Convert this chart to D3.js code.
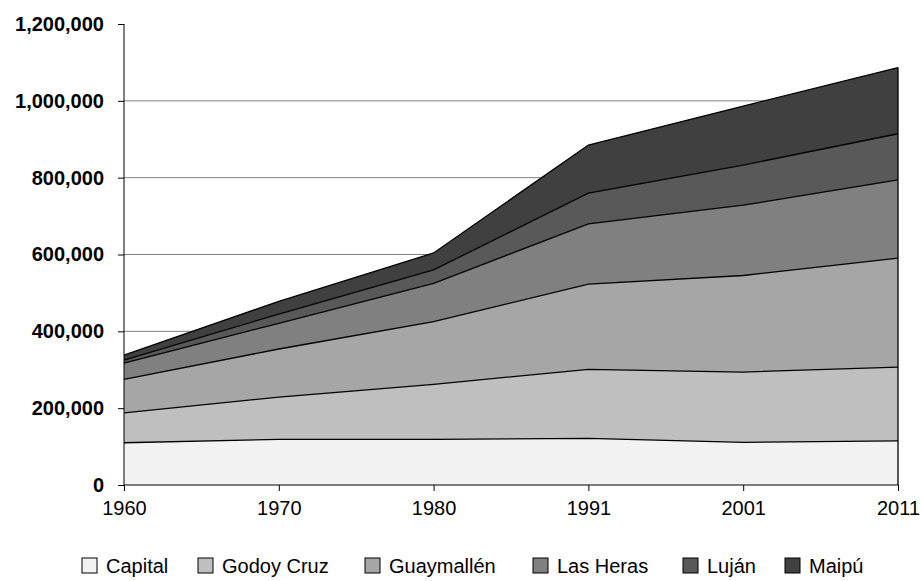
<!DOCTYPE html>
<html>
<head>
<meta charset="utf-8">
<script src="https://cdn.jsdelivr.net/npm/d3@7"></script>
<style>
  body { margin: 0; background: #fff; }
  text { font-family: "Liberation Sans", Arial, sans-serif; }
</style>
</head>
<body>
<svg id="chart" width="921" height="581"></svg>
<script>
// data
var years = ["1960", "1970", "1980", "1991", "2001", "2011"];
var seriesNames = ["Capital", "Godoy Cruz", "Guaymallén", "Las Heras", "Luján", "Maipú"];
var capital   = [110000, 119000, 119000, 121620, 110993, 115041];
var godoyCruz = [78000, 110000, 143000, 179588, 182977, 191903];
var guaymallen = [87000, 125000, 163000, 221904, 251339, 283803];
var lasHeras  = [42000, 67000, 100000, 156545, 182962, 203666];
var lujan     = [8000, 24000, 35000, 79952, 104470, 119888];
var maipu     = [13000, 33000, 44000, 125331, 153600, 172332];
var yTicks = [0, 200000, 400000, 600000, 800000, 1000000, 1200000];
var colors = ["#f2f2f2", "#bfbfbf", "#a6a6a6", "#808080", "#595959", "#404040"];

var svg = d3.select("#chart");

var plotLeft = 124, plotRight = 898, plotTop = 24, plotBottom = 485;

var x = d3.scalePoint().domain(years).range([plotLeft, plotRight]);
var y = d3.scaleLinear().domain([0, 1200000]).range([plotBottom, plotTop]);

var table = years.map(function(yr, i) {
    return {
        year: yr,
        "Capital": capital[i],
        "Godoy Cruz": godoyCruz[i],
        "Guaymallén": guaymallen[i],
        "Las Heras": lasHeras[i],
        "Luján": lujan[i],
        "Maipú": maipu[i]
    };
});

var stacked = d3.stack().keys(seriesNames)(table);

// gridlines
svg.append("g")
    .selectAll("line")
    .data(yTicks.filter(function(d) { return d > 0 && d < 1200000; }))
    .enter().append("line")
    .attr("x1", plotLeft).attr("x2", plotRight)
    .attr("y1", function(d) { return y(d); })
    .attr("y2", function(d) { return y(d); })
    .attr("stroke", "#808080")
    .attr("stroke-width", 1);

var area = d3.area()
    .x(function(d) { return x(d.data.year); })
    .y0(function(d) { return y(d[0]); })
    .y1(function(d) { return y(d[1]); });

var topLine = d3.line()
    .x(function(d) { return x(d.data.year); })
    .y(function(d) { return y(d[1]); });

svg.append("g")
    .selectAll("path")
    .data(stacked)
    .enter().append("path")
    .attr("d", area)
    .attr("fill", function(d, i) { return colors[i]; })
    .attr("stroke", "none");

svg.append("g")
    .selectAll("path")
    .data(stacked)
    .enter().append("path")
    .attr("d", topLine)
    .attr("fill", "none")
    .attr("stroke", "#000")
    .attr("stroke-width", 1.3);

// right edge of the stack
svg.append("line")
    .attr("x1", plotRight).attr("x2", plotRight)
    .attr("y1", y(0))
    .attr("y2", y(stacked[stacked.length - 1][years.length - 1][1]))
    .attr("stroke", "#000").attr("stroke-width", 1.3);

// axes
var yAxis = svg.append("g")
    .attr("transform", "translate(" + plotLeft + ",0)")
    .call(d3.axisLeft(y).tickValues(yTicks).tickSize(6).tickPadding(14)
        .tickFormat(d3.format(",")));
yAxis.select(".domain").attr("stroke", "#000").attr("d", "M0," + plotTop + "V" + plotBottom);
yAxis.selectAll("line").attr("stroke", "#000");
yAxis.selectAll("text")
    .attr("font-size", 20)
    .attr("font-weight", "bold")
    .attr("fill", "#000")
    .attr("font-family", "Liberation Sans, Arial, sans-serif");

var xAxis = svg.append("g")
    .attr("transform", "translate(0," + plotBottom + ")")
    .call(d3.axisBottom(x).tickSize(6).tickPadding(10));
xAxis.select(".domain").attr("stroke", "#000").attr("d", "M" + plotLeft + ",0H" + plotRight);
xAxis.selectAll("line").attr("stroke", "#000");
xAxis.selectAll("text")
    .attr("font-size", 20)
    .attr("fill", "#000")
    .attr("font-family", "Liberation Sans, Arial, sans-serif");

// legend
var legendX = [82, 198, 365, 533, 683, 785];
var legend = svg.append("g")
    .selectAll("g")
    .data(seriesNames)
    .enter().append("g")
    .attr("transform", function(d, i) { return "translate(" + legendX[i] + ",558)"; });

legend.append("rect")
    .attr("width", 15).attr("height", 15)
    .attr("fill", function(d, i) { return colors[i]; })
    .attr("stroke", "#000").attr("stroke-width", 1);

legend.append("text")
    .attr("x", 24).attr("y", 15)
    .attr("font-size", 20)
    .attr("fill", "#000")
    .text(function(d) { return d; });
</script>
</body>
</html>
